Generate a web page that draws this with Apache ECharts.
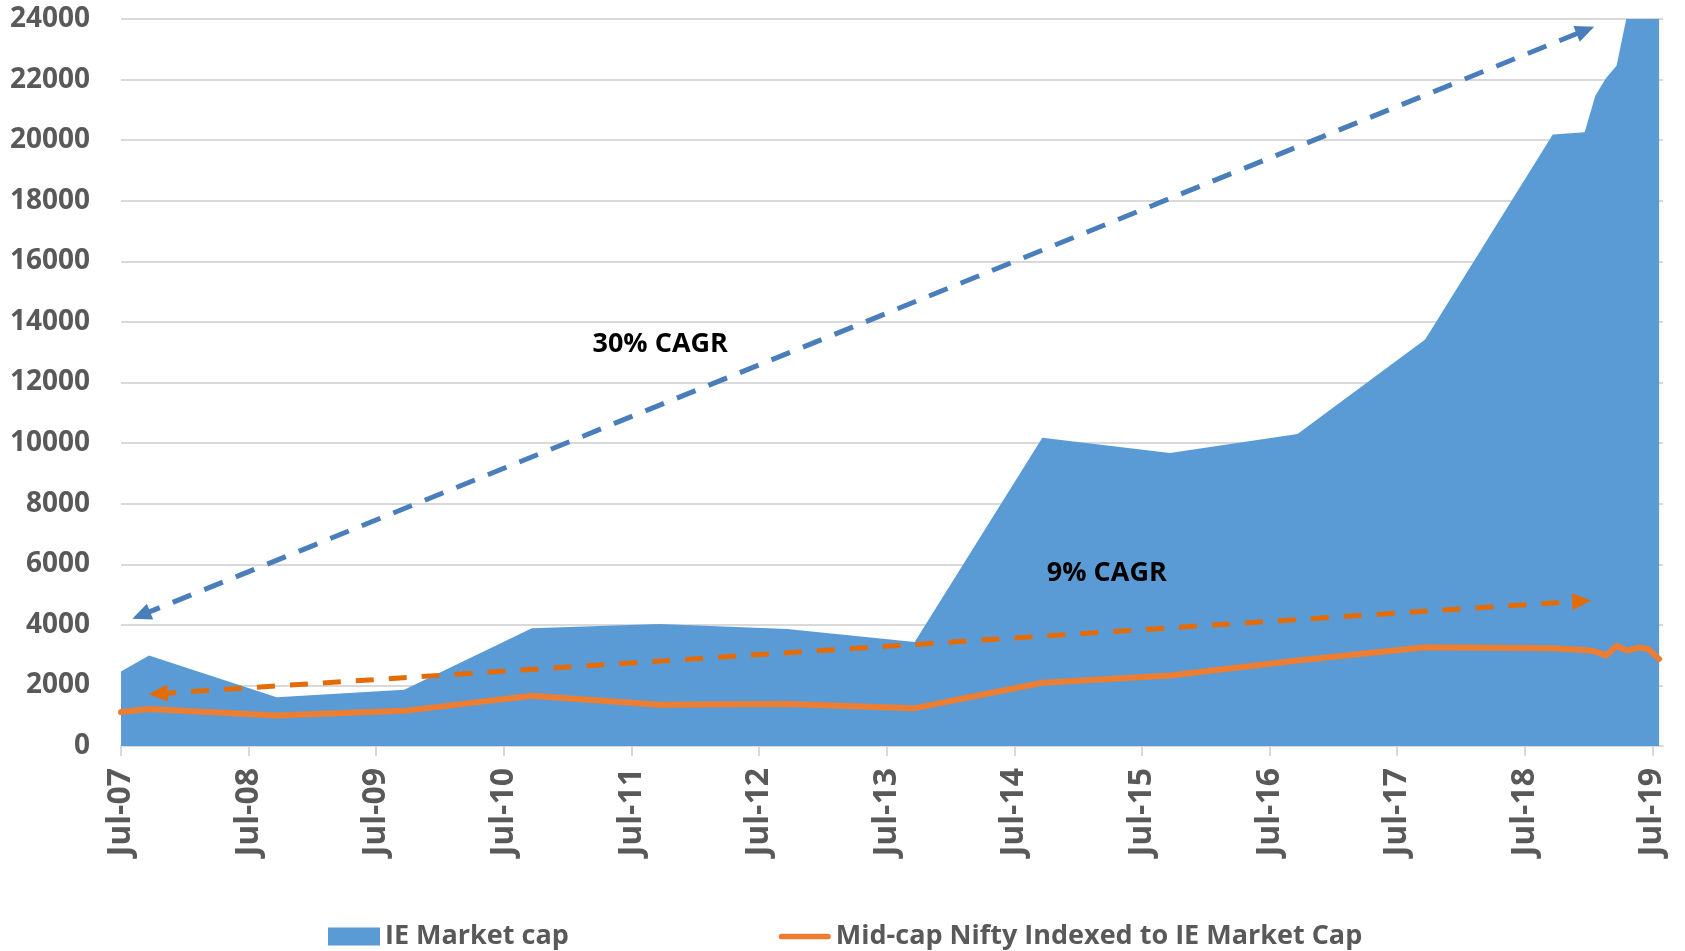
<!DOCTYPE html>
<html>
<head>
<meta charset="utf-8">
<script src="https://cdn.jsdelivr.net/npm/echarts@6/dist/echarts.min.js"></script>
<style>
html,body{margin:0;padding:0;background:#fff}
#main{width:1685px;height:951px}
</style>
</head>
<body>
<div id="main"></div>
<script>
// observation dates (yearly to Sep-18, then monthly)
var dates = ['2007-07-01','2007-09-20','2008-09-20','2009-09-20','2010-09-20','2011-09-20','2012-09-20',
  '2013-09-20','2014-09-20','2015-09-20','2016-09-20','2017-09-20','2018-09-20','2018-12-20',
  '2019-01-20','2019-02-20','2019-03-20','2019-04-20','2019-05-20','2019-06-20','2019-07-20'];
var ieMarketCap = [2460, 2990, 1610, 1860, 3890, 4030, 3860, 3430, 10180, 9670, 10300, 13420,
  20190, 20260, 21470, 22040, 22460, 24150, 25000, 25800, 26500];
var midcapIndexed = [1120, 1220, 1010, 1160, 1660, 1360, 1390, 1250, 2090, 2330, 2820, 3260,
  3230, 3170, 3120, 2990, 3300, 3150, 3250, 3200, 2870];
var tickLabels = ['Jul-07','Jul-08','Jul-09','Jul-10','Jul-11','Jul-12','Jul-13',
  'Jul-14','Jul-15','Jul-16','Jul-17','Jul-18','Jul-19'];

// months elapsed since Jul-07
function monthIdx(s){
  var p = s.split('-');
  return (+p[0] - 2007) * 12 + (+p[1] - 7) + (+p[2] - 1) / 30;
}
function pairs(vals){
  return dates.map(function(d, i){ return [monthIdx(d), vals[i]]; });
}
var tickVals = tickLabels.map(function(l, i){ return i * 12; });

document.addEventListener('DOMContentLoaded', function(){
  var myChart = echarts.init(document.getElementById('main'));
  var font = '"Open Sans", "Liberation Sans", sans-serif';
  var option = {
    backgroundColor: '#fff',
    animation: false,
    textStyle: { fontFamily: font },
    grid: { left: 121, right: 22, top: 19, bottom: 205, outerBoundsMode: 'none' },
    legend: {
      left: 323, top: 918,
      itemWidth: 52, itemHeight: 18, itemGap: 210,
      textStyle: { fontFamily: font, fontSize: 27, fontWeight: 'bold', color: '#595959' },
      data: [
        { name: 'IE Market cap', icon: 'rect' },
        { name: 'Mid-cap Nifty Indexed to IE Market Cap',
          icon: 'path://M3,0 L52,0 A3,3 0 0 1 52,6 L3,6 A3,3 0 0 1 3,0 Z' }
      ]
    },
    xAxis: {
      type: 'value', min: 0, max: 145,
      axisLine: { show: true, lineStyle: { color: '#d9d9d9', width: 2 } },
      axisTick: { show: true, length: 10, customValues: tickVals, lineStyle: { color: '#d9d9d9', width: 2 } },
      splitLine: { show: false },
      axisLabel: {
        customValues: tickVals,
        rotate: 90, margin: 22,
        fontFamily: font, fontSize: 32, fontWeight: 'bold', color: '#595959',
        formatter: function(v){ return tickLabels[Math.round(v / 12)] || ''; }
      }
    },
    yAxis: {
      type: 'value', min: 0, max: 24000, interval: 2000,
      axisLine: { show: false }, axisTick: { show: false },
      splitLine: { lineStyle: { color: '#d9d9d9', width: 2 } },
      axisLabel: {
        margin: 31, fontFamily: font, fontSize: 28, fontWeight: 'bold', color: '#595959',
        formatter: function(v){ return String(v); }
      }
    },
    series: [{
      name: 'IE Market cap',
      type: 'line',
      data: pairs(ieMarketCap),
      symbol: 'none',
      color: '#5b9bd5',
      lineStyle: { width: 0 },
      areaStyle: { color: '#5b9bd5', opacity: 1 },
      z: 1,
      markLine: {
        silent: true, symbol: ['triangle', 'triangle'], symbolSize: [17, 19],
        lineStyle: { color: '#4a7ebb', width: 5, type: [20, 14] },
        label: { show: false },
        data: [[{ coord: [1.9, 4320] }, { coord: [137.7, 23630] }]]
      },
      markPoint: {
        silent: true, symbol: 'circle', symbolSize: 0,
        label: { show: true, position: 'inside', fontFamily: font, fontSize: 27, fontWeight: 'bold', color: '#000',
          formatter: function(p){ return p.name; } },
        data: [{ name: '30% CAGR', coord: [50.7, 13270] }, { name: '9% CAGR', coord: [92.7, 5710] }]
      }
    }, {
      name: 'Mid-cap Nifty Indexed to IE Market Cap',
      type: 'line',
      data: pairs(midcapIndexed),
      symbol: 'none',
      color: '#ed7d31',
      lineStyle: { color: '#ed7d31', width: 6, cap: 'round', join: 'round' },
      z: 3,
      markLine: {
        silent: true, symbol: ['triangle', 'triangle'], symbolSize: [17, 19],
        lineStyle: { color: '#e36c09', width: 5, type: [18, 15] },
        label: { show: false },
        data: [[{ coord: [3.5, 1727] }, { coord: [137.35, 4785] }]]
      }
    }]
  };
  myChart.setOption(option);
});
</script>
</body>
</html>
